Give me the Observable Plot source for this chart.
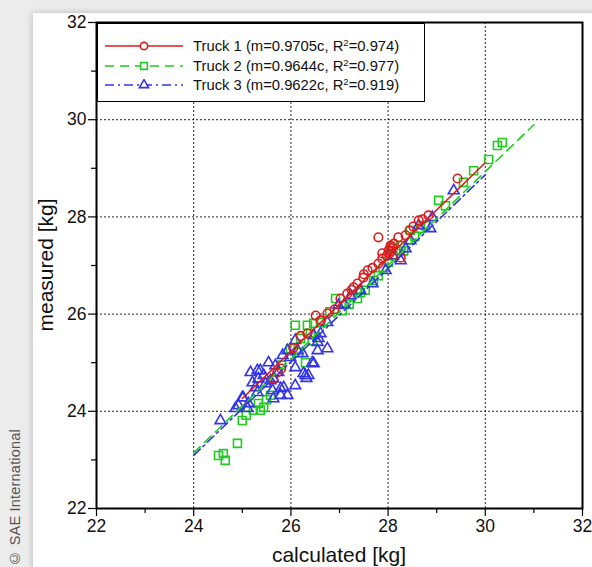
<!DOCTYPE html>
<html><head><meta charset="utf-8">
<script src="https://cdn.jsdelivr.net/npm/d3@7"></script>
<script src="https://cdn.jsdelivr.net/npm/@observablehq/plot@0.6"></script>
<style>
html,body{margin:0;padding:0;}
body{width:592px;height:567px;position:relative;overflow:hidden;background:#ececec;font-family:"Liberation Sans",Arial,sans-serif;}
#panel{position:absolute;left:33px;top:13px;width:620px;height:620px;background:#fff;box-shadow:0 0 7px rgba(0,0,0,0.22);}
#chart{position:absolute;left:0;top:0;}
#copy{position:absolute;left:6px;bottom:1px;writing-mode:vertical-rl;transform:rotate(180deg);font-size:14.5px;line-height:18px;color:#555;letter-spacing:0.2px;}
#legend{position:absolute;left:97px;top:23px;width:326px;height:77px;border:1.6px solid #000;background:#fff;}
.row{position:absolute;left:0;height:20px;display:flex;align-items:center;font-size:14.8px;color:#111;white-space:nowrap;}
.row svg{margin-left:7px;margin-right:10px;}
.sup{font-size:9.5px;position:relative;top:-5px;}
</style></head>
<body>
<div id="panel"></div>
<div id="chart"></div>
<div id="copy">© SAE International</div>
<div id="legend"></div>
<script>
const trucks = ["Truck 1", "Truck 2", "Truck 3"];
const slopes = [0.9705, 0.9644, 0.9622];
const r2 = ["0.974", "0.977", "0.919"];
const fitStart = [25, 24, 24];
const fitEnd = [30, 31, 30];
const colors = ["#d81e1e", "#1fcc1f", "#3535e6"];
const symbols = ["circle", "square", "triangle"];
const dashes = [null, "9,6", "9,4,2,4"];

const xTicks = [22, 24, 26, 28, 30, 32];
const xMinor = [23, 25, 27, 29, 31];
const yTicks = [22, 24, 26, 28, 30, 32];
const yMinor = [23, 25, 27, 29, 31];

// [calculated, measured]
const truck1 = [
  [25.64,24.67],[25.72,24.80],[25.80,24.88],[26.20,25.55],[26.34,25.60],[26.61,25.87],[26.51,25.97],
  [26.75,26.01],[26.90,26.10],[27.02,26.32],[27.16,26.42],[27.29,26.55],[27.37,26.63],[27.49,26.75],
  [27.50,26.82],[27.58,26.90],[27.68,26.95],[27.80,27.04],[27.88,27.14],[27.97,27.20],[28.01,27.31],
  [28.05,27.36],[28.05,27.41],[28.09,27.38],[28.03,27.25],[28.07,27.30],[28.21,27.58],[28.26,27.16],
  [28.36,27.62],[28.44,27.72],[28.52,27.80],[28.63,27.93],[28.71,27.95],[28.83,28.03],[29.43,28.79],
  [27.80,27.58],[27.88,27.25],[28.12,27.45],[26.05,25.30],[27.25,26.50]
];
const truck2 = [
  [24.51,23.09],[24.61,23.13],[24.65,22.99],[24.90,23.34],[25.00,23.81],[25.08,23.92],[25.23,24.02],
  [25.33,24.16],[25.37,24.02],[25.44,24.08],[25.58,24.33],[25.50,24.24],[25.99,25.29],[26.09,25.77],
  [26.16,25.21],[26.20,25.50],[26.30,25.00],[26.34,25.77],[26.47,25.81],[26.61,25.83],[26.40,25.60],
  [26.44,25.45],[26.92,26.32],[27.06,26.07],[27.37,26.32],[27.43,26.44],[27.53,26.49],[27.70,26.69],
  [27.80,26.79],[28.01,27.06],[28.26,27.41],[28.46,27.72],[28.67,27.76],[28.77,27.82],[29.04,28.34],
  [29.18,28.23],[29.55,28.71],[29.76,28.95],[30.07,29.18],[30.25,29.47],[30.35,29.53],[27.90,26.95],
  [28.10,27.20],[28.32,27.30],[28.55,27.60],[27.20,26.20],[26.80,26.05],[25.80,24.95]
];
const truck3 = [
  [24.55,23.81],[24.86,24.06],[24.92,24.12],[25.00,24.28],[25.11,24.06],[25.13,24.16],[25.17,24.80],
  [25.21,24.59],[25.27,24.49],[25.33,24.67],[25.37,24.84],[25.44,24.74],[25.48,24.57],[25.54,25.00],
  [25.58,24.63],[25.62,24.43],[25.68,24.94],[25.74,24.80],[25.83,25.15],[25.85,24.49],[25.79,24.33],
  [25.93,24.33],[25.93,25.25],[25.99,25.11],[26.09,24.90],[26.09,24.53],[26.14,25.25],[26.09,25.46],
  [26.24,25.19],[26.26,24.78],[26.30,24.74],[26.36,24.74],[26.32,24.68],[26.44,25.00],[26.47,24.98],
  [26.55,25.25],[26.57,25.50],[26.75,25.29],[26.55,25.42],[26.47,25.56],[26.61,25.60],[26.75,25.83],
  [25.02,24.28],[25.31,24.39],[25.64,24.26],[25.79,24.47],[25.31,24.84],[25.64,24.67],[26.98,26.18],
  [27.23,26.38],[27.43,26.49],[27.68,26.63],[27.95,26.90],[28.26,27.10],[28.36,27.35],[28.46,27.51],
  [28.63,27.82],[28.87,27.76],[28.91,27.99],[29.35,28.54],[28.10,27.20],[27.10,26.20]
];

const seriesPts = [truck1, truck2, truck3];
const sizes = [4.3, 4.5, 4.0];
const points = seriesPts.flatMap((arr, i) => arr.map(([x, y]) => ({x, y, truck: trucks[i]})));
const fits = trucks.map((t, i) => [fitStart[i], fitEnd[i]].map(x => ({x, y: slopes[i] * x, truck: t})));

const drawOrder = [1, 2, 0];
const marks = [
  Plot.gridX(xTicks.slice(1, -1), {stroke: "#000", strokeOpacity: 0.85, strokeDasharray: "2,2", strokeWidth: 1}),
  Plot.gridY(yTicks.slice(1, -1), {stroke: "#000", strokeOpacity: 0.85, strokeDasharray: "2,2", strokeWidth: 1}),
  ...drawOrder.map(i => Plot.dot(points.filter(d => d.truck === trucks[i]), {
    x: "x", y: "y", symbol: () => symbols[i], r: sizes[i],
    stroke: colors[i], strokeWidth: 1.6, fill: "none"
  })),
  ...drawOrder.map(i => Plot.line(fits[i], {
    x: "x", y: "y", stroke: colors[i], strokeWidth: 1.6, strokeDasharray: dashes[i]
  })),
  Plot.axisX(xTicks, {tickSize: 8, tickPadding: 3, stroke: "#000", strokeWidth: 1.2, label: null, fill: "#111"}),
  Plot.axisX(xMinor, {tickSize: 5, tickFormat: () => "", stroke: "#000", strokeWidth: 1.2, label: null}),
  Plot.axisY(yTicks, {tickSize: 8, tickPadding: 2, stroke: "#000", strokeWidth: 1.2, label: null, fill: "#111"}),
  Plot.axisY(yMinor, {tickSize: 5, tickFormat: () => "", stroke: "#000", strokeWidth: 1.2, label: null}),
  Plot.frame({stroke: "#000", strokeWidth: 2})
];

const plot = Plot.plot({
  width: 592, height: 567,
  marginLeft: 96, marginRight: 10, marginTop: 22, marginBottom: 59,
  style: {background: "transparent", fontFamily: "Liberation Sans, Arial, sans-serif", overflow: "visible"},
  x: {domain: [22, 32]},
  y: {domain: [22, 32]},
  marks
});
document.getElementById("chart").append(plot);

const sel = d3.select(plot);
sel.selectAll('g[aria-label$="tick label"] text').style("font-size", "17.5px");
sel.append("text").attr("x", 339).attr("y", 562).attr("text-anchor", "middle")
  .style("font-size", "21px").attr("fill", "#111").text("calculated [kg]");
sel.append("text").attr("transform", "translate(53,265) rotate(-90)").attr("text-anchor", "middle")
  .style("font-size", "21px").attr("fill", "#111").text("measured [kg]");

const legend = document.getElementById("legend");
trucks.forEach((t, i) => {
  const row = document.createElement("div");
  row.className = "row";
  row.style.top = (12 + i * 19.5) + "px";
  const s = d3.create("svg").attr("width", 78).attr("height", 12);
  s.append("line").attr("x1", 0).attr("x2", 78).attr("y1", 6).attr("y2", 6)
    .attr("stroke", colors[i]).attr("stroke-width", 1.6).attr("stroke-dasharray", dashes[i]);
  const symType = [d3.symbolCircle, d3.symbolSquare, d3.symbolTriangle][i];
  const rr = sizes[i] * 0.85;
  s.append("path").attr("transform", "translate(39,6)")
    .attr("d", d3.symbol(symType, rr * rr * Math.PI)())
    .attr("fill", "#fff").attr("stroke", colors[i]).attr("stroke-width", 1.6);
  row.append(s.node());
  const label = document.createElement("span");
  label.innerHTML = `${t} (m=${slopes[i]}c, R<span class="sup">2</span>=${r2[i]})`;
  row.append(label);
  legend.append(row);
});
</script>
</body></html>
